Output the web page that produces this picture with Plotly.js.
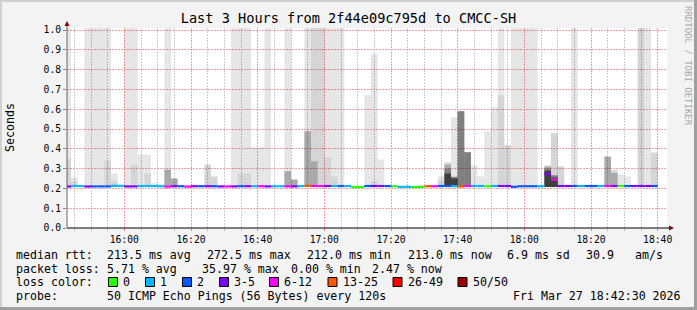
<!DOCTYPE html>
<html><head><meta charset="utf-8">
<script src="https://cdn.plot.ly/plotly-3.0.1.min.js"></script>
<style>html,body{margin:0;padding:0;background:#f3f3f3;}</style>
</head><body>
<div id="chart" style="width:697px;height:310px;"></div>
<script>
// ---------------- data ----------------
const T = 1.05; // smoke that runs past the top of the scale
const firstStepCenter = 43;   // minutes after 15:00 (first 2-minute step, 15:42-15:44)
const stepMinutes = 2;

// median RTT per step (seconds), steps 15:42 .. 18:38
const medianRtt = [
  .2095,.212,.212,.2095,.210,.210,.210,.213,.213,.210,
  .210,.212,.212,.212,.211,.209,.211,.211,.209,.211,
  .211,.211,.211,.210,.210,.210,.211,.211,.211,.211,
  .210,.211,.211,.210,.210,.212,.213,.212,.212,.212,
  .212,.212,.212,.207,.207,.212,.212,.212,.212,.211,
  .208,.208,.207,.207,.211,.211,.212,.212,.211,.210,
  .212,.212,.212,.211,.212,.212,.212,.208,.211,.211,
  .211,.211,.2725,.2445,.212,.212,.212,.212,.212,.212,
  .212,.212,.212,.212,.212,.212,.212,.212,.212
];
// lost pings (of 50) per step
const lostPings = [
  4,1,1,3,2,2,2,1,1,4,
  3,1,1,1,1,7,4,2,6,3,
  2,4,2,3,6,4,2,5,1,8,
  3,1,1,9,4,1,14,10,7,3,
  1,2,1,0,0,2,3,4,2,0,
  1,1,0,0,13,6,2,2,1,16,
  6,1,1,0,1,4,3,2,2,2,
  2,1,5,9,3,4,2,1,2,2,
  1,7,4,0,2,3,4,3,2
];
// smoke: top of each ping band per step (seconds), outer (lightest) to inner (darkest)
const smokeOuter = [
  T,.255,null,T,T,T,T,.275,null,T,
  T,.371,.371,.228,.222,T,.25,null,.219,.22,
  null,.32,.26,null,null,T,T,T,.408,.408,
  T,null,null,T,.245,null,T,T,T,T,
  T,T,null,null,null,.671,.877,.346,null,null,
  null,null,null,.22,null,null,.261,.332,.56,.59,
  .383,.317,.26,.489,.61,T,.418,T,T,T,
  T,null,.317,.479,.312,null,T,null,null,null,
  null,.361,.292,.27,.26,null,T,T,.381
];
const smokeUpper = [
  .35,.235,null,null,null,null,.34,.236,null,null,
  .32,null,.275,null,null,.295,.25,null,null,null,
  null,.32,.26,null,null,null,.275,.275,null,null,
  null,null,null,.287,.245,null,.489,T,T,.357,
  .26,null,null,null,null,null,.236,null,null,null,
  null,null,null,null,null,null,.24,.33,.26,.59,
  .383,null,null,null,null,.671,.418,null,null,null,
  null,null,.315,.479,.312,null,null,null,null,null,
  null,.361,.292,null,null,null,T,null,.381
];
const smokeMiddle = [
  null,null,null,null,null,null,null,null,null,null,
  null,null,null,null,null,.295,.25,null,null,null,
  null,null,null,null,null,null,null,null,null,null,
  null,null,null,.287,.245,null,.489,.337,null,null,
  null,null,null,null,null,null,null,null,null,null,
  null,null,null,null,null,null,null,.32,.258,.59,
  .383,null,null,null,null,null,null,null,null,null,
  null,null,.31,.268,null,null,null,null,null,null,
  null,.361,.278,null,null,null,null,null,null
];
const smokeInner = [
  null,null,null,null,null,null,null,null,null,null,
  null,null,null,null,null,null,null,null,null,null,
  null,null,null,null,null,null,null,null,null,null,
  null,null,null,null,null,null,null,null,null,null,
  null,null,null,null,null,null,null,null,null,null,
  null,null,null,null,null,null,null,.30,.258,.59,
  .383,null,null,null,null,null,null,null,null,null,
  null,null,.30,.265,null,null,null,null,null,null,
  null,null,null,null,null,null,null,null,null
];
const smokeCore = [
  null,null,null,null,null,null,null,null,null,null,
  null,null,null,null,null,null,null,null,null,null,
  null,null,null,null,null,null,null,null,null,null,
  null,null,null,null,null,null,null,null,null,null,
  null,null,null,null,null,null,null,null,null,null,
  null,null,null,null,null,null,null,.275,.25,null,
  null,null,null,null,null,null,null,null,null,null,
  null,null,.29,.255,null,null,null,null,null,null,
  null,null,null,null,null,null,null,null,null
];

const tickMinutes = [60,80,100,120,140,160,180,200,220];
const tickLabels = ['16:00','16:20','16:40','17:00','17:20','17:40','18:00','18:20','18:40'];
const yTicks = [0,0.1,0.2,0.3,0.4,0.5,0.6,0.7,0.8,0.9,1.0];

const lossLower = [0,1,2,3,6,13,26,50];
const lossLabels = ['0','1','2','3-5','6-12','13-25','26-49','50/50'];
const lossColors = ['#26ff00','#00b8ff','#0059ff','#7e00ff','#ff00ff','#ff5500','#ff0000','#a10000'];

const titleText = 'Last 3 Hours from 2f44e09c795d to CMCC-SH';
const medianStats = ['213.5 ms avg','272.5 ms max','212.0 ms min','213.0 ms now','6.9 ms sd','30.9','am/s'];
const lossStats = ['5.71 % avg','35.97 % max','0.00 % min','2.47 % now'];
const probeText = '50 ICMP Echo Pings (56 Bytes) every 120s';
const stampText = 'Fri Mar 27 18:42:30 2026';

// ---------------- drawing ----------------
const MONO = 'DejaVu Sans Mono';
const stepX = medianRtt.map((_, i) => firstStepCenter + i * stepMinutes);
const smokeFloor = 0.207;
const binOf = n => { let b = 0; lossLower.forEach((lo, j) => { if (n >= lo) b = j; }); return b; };

const traces = [];
const layers = [smokeOuter, smokeUpper, smokeMiddle, smokeInner, smokeCore];
const alphas = [0.098, 0.07, 0.205, 0.247, 0.5];
layers.forEach((arr, j) => {
  traces.push({
    type: 'bar', x: stepX, base: smokeFloor,
    y: arr.map(v => v == null ? null : v - smokeFloor),
    width: stepMinutes, marker: {color: 'rgba(0,0,0,' + alphas[j] + ')', line: {width: 0}},
    hoverinfo: 'skip', showlegend: false
  });
});
const lineThick = 0.011;
traces.push({
  type: 'bar', x: stepX,
  base: medianRtt.map(m => m - lineThick / 2),
  y: medianRtt.map(() => lineThick),
  width: stepMinutes,
  marker: {color: lostPings.map(n => lossColors[binOf(n)]), line: {width: 0}},
  hoverinfo: 'skip', showlegend: false
});

// pixel -> paper helpers (plot area: x 67..667, y 28..228)
const PL = 67, PW = 600, PB = 228, PH = 200;
const px = p => (p - PL) / PW;
const py = p => (PB - p) / PH;

const annotations = [];
const txt = (t, x, y, opt) => annotations.push(Object.assign({
  text: t, xref: 'paper', yref: 'paper', x: px(x), y: py(y), xanchor: 'left', yanchor: 'middle',
  showarrow: false, borderpad: 0, borderwidth: 0,
  font: {family: MONO, size: 11.6, color: '#000'}
}, opt || {}));

const row1 = 254.5, row2 = 268.5, row3 = 282, row4 = 296;
txt('median rtt:', 16, row1);
const medX = [107, 207, 307, 407.5, 507, 586, 635];
medianStats.forEach((s, i) => txt(s, medX[i], row1));
txt('packet loss:', 16, row2);
const lossX = [107, 202, 291, 372];
lossStats.forEach((s, i) => txt(s, lossX[i], row2));
txt('loss color:', 16, row3);
const swX = [108.5, 145.5, 182.5, 219.5, 269.5, 328, 393, 458];
const shapes = [];
lossLabels.forEach((l, i) => {
  shapes.push({type: 'rect', xref: 'paper', yref: 'paper',
    x0: px(swX[i]), x1: px(swX[i] + 9), y0: py(row3 - 4.5), y1: py(row3 + 4.5),
    fillcolor: lossColors[i], line: {color: '#000', width: 1}});
  txt(l, swX[i] + 14.5, row3);
});
txt('probe:', 16, row4);
txt(probeText, 107, row4);
txt(stampText, 681, row4, {xanchor: 'right'});
txt('Seconds', 10, 128, {xanchor: 'center', textangle: -90});
txt('RRDTOOL / TOBI OETIKER', 688, 66, {xanchor: 'center', textangle: 90,
  font: {family: MONO, size: 9, color: '#a8a8a8'}});

// axis extensions and arrowheads
shapes.push({type: 'line', xref: 'paper', yref: 'paper', x0: px(67), x1: px(670), y0: 0, y1: 0,
  line: {color: '#000', width: 1}});
shapes.push({type: 'line', xref: 'paper', yref: 'paper', x0: 0, x1: 0, y0: 0, y1: py(24),
  line: {color: '#666', width: 1}});
shapes.push({type: 'path', xref: 'paper', yref: 'paper',
  path: `M ${px(669)} ${py(225.5)} L ${px(674)} ${py(228)} L ${px(669)} ${py(230.5)} Z`,
  fillcolor: '#8b0000', line: {color: '#8b0000', width: 0}});
shapes.push({type: 'path', xref: 'paper', yref: 'paper',
  path: `M ${px(64.5)} ${py(26)} L ${px(67)} ${py(21)} L ${px(69.5)} ${py(26)} Z`,
  fillcolor: '#8b0000', line: {color: '#8b0000', width: 0}});
// frame
shapes.push({type: 'line', xref: 'paper', yref: 'paper', x0: px(0), x1: px(697), y0: py(1), y1: py(1), line: {color: '#d0d0d0', width: 2}});
shapes.push({type: 'line', xref: 'paper', yref: 'paper', x0: px(1), x1: px(1), y0: py(0), y1: py(310), line: {color: '#d0d0d0', width: 2}});
shapes.push({type: 'line', xref: 'paper', yref: 'paper', x0: px(0), x1: px(697), y0: py(308.5), y1: py(308.5), line: {color: '#a0a0a0', width: 3}});
shapes.push({type: 'line', xref: 'paper', yref: 'paper', x0: px(695.5), x1: px(695.5), y0: py(0), y1: py(310), line: {color: '#a0a0a0', width: 3}});

const layout = {
  width: 697, height: 310,
  margin: {l: PL, r: 697 - PL - PW, t: PB - PH, b: 310 - PB},
  paper_bgcolor: '#f3f3f3', plot_bgcolor: '#ffffff',
  barmode: 'overlay', showlegend: false,
  title: {text: titleText, x: 0.5, xanchor: 'center', y: 1 - 18.5 / 310, yanchor: 'middle',
    font: {family: MONO, size: 13.6, color: '#000'}},
  xaxis: {
    range: [42.8, 222.8], tickmode: 'array', tickvals: tickMinutes, ticktext: tickLabels,
    showgrid: true, gridcolor: '#f4a0a0', griddash: '2px,1px', gridwidth: 1,
    zeroline: false, showline: false,
    ticks: 'outside', ticklen: 2, tickcolor: '#f08080',
    tickfont: {family: MONO, size: 9.7, color: '#000'},
    minor: {tickmode: 'linear', tick0: 0, dtick: 5, showgrid: true, gridcolor: '#cccccc',
      griddash: '2px,1px', gridwidth: 1, ticks: 'outside', ticklen: 2, tickcolor: '#bbbbbb'},
    fixedrange: true
  },
  yaxis: {
    range: [0, PH / 198], tickmode: 'array', tickvals: yTicks, tickformat: '.1f',
    showgrid: true, gridcolor: '#f4a0a0', griddash: '2px,1px', gridwidth: 1,
    zeroline: false, showline: false,
    ticks: 'outside', ticklen: 3, tickcolor: '#888',
    tickfont: {family: MONO, size: 9.7, color: '#000'},
    fixedrange: true
  },
  annotations: annotations,
  shapes: shapes
};
Plotly.newPlot('chart', traces, layout, {staticPlot: true, displayModeBar: false});
</script>
</body></html>
